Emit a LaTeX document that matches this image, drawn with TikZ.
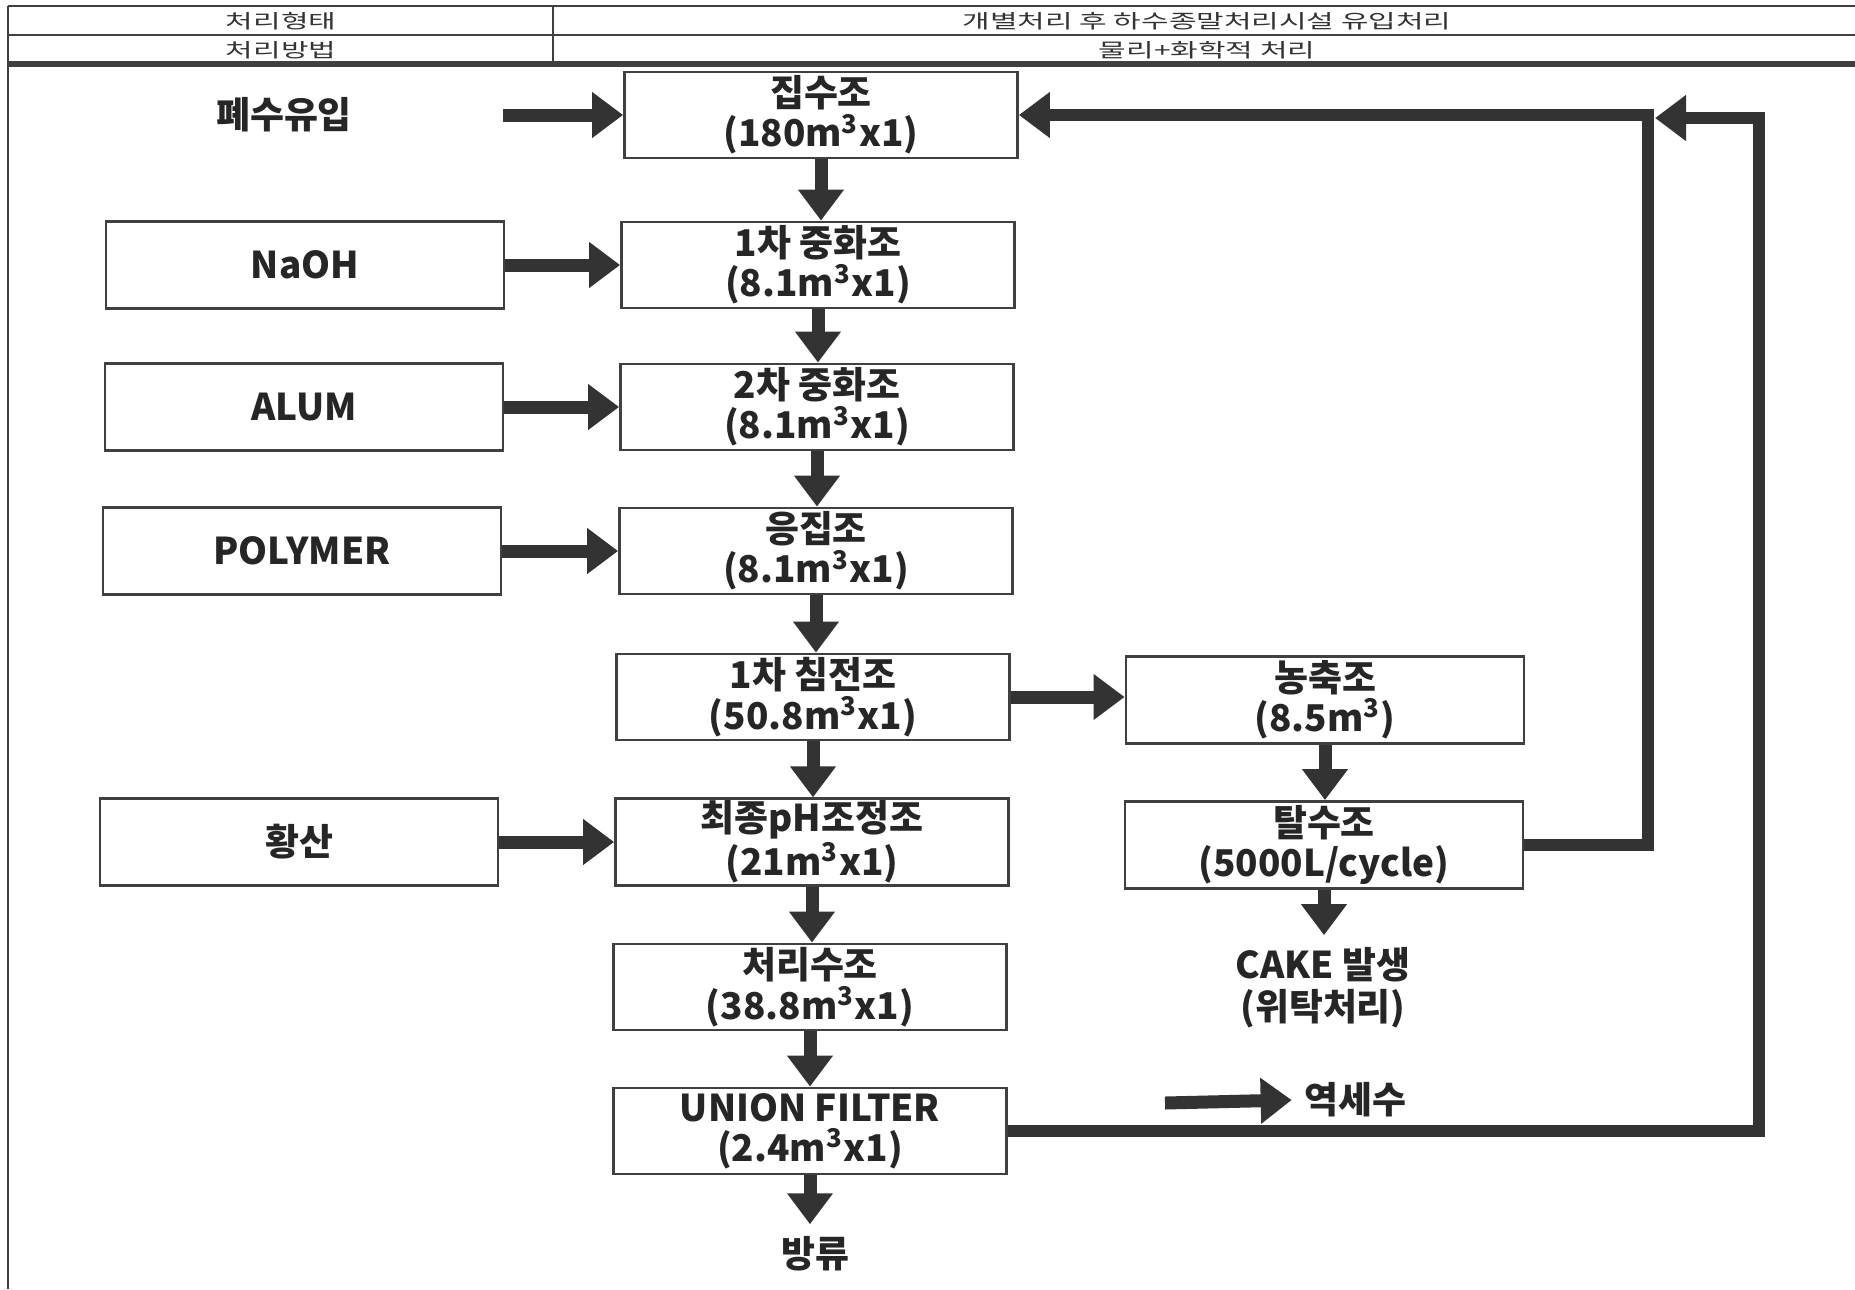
\documentclass[tikz,border=0pt]{standalone}
\usepackage{fontspec}
\setmainfont{Noto Sans CJK KR}
\newfontfamily\kopffont{Noto Sans CJK KR}[FakeStretch=1.55]
\usetikzlibrary{arrows.meta}

\tikzset{
	becken/.style={draw=black!75, line width=0.8pt, minimum width=39.3mm, minimum height=8.6mm,
		inner ysep=0.5pt, align=center, font=\bfseries\fontsize{10.5}{11.5}\selectfont, text=black!85},
	chemie/.style={becken, minimum width=39.8mm, minimum height=8.7mm},
	marke/.style={align=center, font=\bfseries\fontsize{10.5}{12}\selectfont, text=black!85},
	kopf/.style={font=\kopffont\fontsize{5.5}{6}\selectfont, text=black!80},
	pfeil/.style={line width=1.3mm, draw=black!80, -{Triangle[length=3.1mm,width=4.4mm]}},
	rueck/.style={pfeil, line width=1.2mm, line join=miter}
}

\begin{document}
\begin{tikzpicture}[x=0.1mm,y=-0.1mm]
	\useasboundingbox (0,0) rectangle (1855,1289);
	
	%Kopf
	\draw[black!75, line width=0.6pt] (8,6) -- (1855,6);
	\draw[black!75, line width=0.6pt] (8,35) -- (1855,35);
	\draw[black!75, line width=1.6pt] (8,64) -- (1855,64);
	\draw[black!75, line width=0.6pt] (553,6) -- (553,64);
	\draw[black!75, line width=0.8pt] (8,6) -- (8,1289);
	\node[kopf] (form) at (281,21) {처리형태};
	\node[kopf] (formtext) at (1207,21) {개별처리 후 하수종말처리시설 유입처리};
	\node[kopf] (method) at (281,50) {처리방법};
	\node[kopf] (methodtext) at (1207,50) {물리+화학적 처리};
	
	%Hauptlinie
	\node[becken] (jip) at (821,115) {집수조\\(180m\textsuperscript{3}x1)};
	\node[becken] (neut1) at (818,265) {1차 중화조\\(8.1m\textsuperscript{3}x1)};
	\node[becken] (neut2) at (817,407) {2차 중화조\\(8.1m\textsuperscript{3}x1)};
	\node[becken] (coag) at (816,551) {응집조\\(8.1m\textsuperscript{3}x1)};
	\node[becken] (sed) at (813,697) {1차 침전조\\(50.8m\textsuperscript{3}x1)};
	\node[becken] (ph) at (812,842) {최종pH조정조\\(21m\textsuperscript{3}x1)};
	\node[becken] (treat) at (810,987) {처리수조\\(38.8m\textsuperscript{3}x1)};
	\node[becken] (filt) at (810,1131) {UNION FILTER\\(2.4m\textsuperscript{3}x1)};
	\node[marke] (out) at (815,1254) {방류};
	
	%Chemikalien
	\node[marke] (inflow) at (284,115) {폐수유입};
	\coordinate (inflowend) at (503,115);
	\node[chemie] (naoh) at (305,265) {NaOH};
	\node[chemie] (alum) at (304,407) {ALUM};
	\node[chemie] (poly) at (302,551) {POLYMER};
	\node[chemie] (acid) at (299,842) {황산};
	
	%Schlamm
	\node[chemie] (thick) at (1325,700) {농축조\\(8.5m\textsuperscript{3})};
	\node[chemie] (dew) at (1324,845) {탈수조\\(5000L/cycle)};
	\node[marke] (cake) at (1323,988) {CAKE 발생\\(위탁처리)};
	\node[marke] (back) at (1355,1100) {역세수};
	\coordinate (backend) at (1165,1103);
	
	\draw[pfeil] (inflowend) -- (jip.west);
	\draw[pfeil] (naoh.east) -- (neut1.west);
	\draw[pfeil] (alum.east) -- (neut2.west);
	\draw[pfeil] (poly.east) -- (coag.west);
	\draw[pfeil] (acid.east) -- (ph.west);
	
	\draw[pfeil] (jip.south) -- (jip.south |- neut1.north);
	\draw[pfeil] (neut1.south) -- (neut1.south |- neut2.north);
	\draw[pfeil] (neut2.south) -- (neut2.south |- coag.north);
	\draw[pfeil] (coag.south) -- (coag.south |- sed.north);
	\draw[pfeil] (sed.south) -- (sed.south |- ph.north);
	\draw[pfeil] (ph.south) -- (ph.south |- treat.north);
	\draw[pfeil] (treat.south) -- (treat.south |- filt.north);
	\draw[pfeil] (filt.south) -- (filt.south |- out.north);
	
	\draw[pfeil] (sed.east) -- (sed.east -| thick.west);
	\draw[pfeil] (thick.south) -- (thick.south |- dew.north);
	\draw[pfeil] (dew.south) -- (dew.south |- cake.north);
	\draw[pfeil] (backend) -- (back.west);
	
	%Rueckfuehrung
	\coordinate (ret1) at (1648,115);
	\coordinate (ret2) at (1759,118);
	\coordinate (ret2end) at (1655,118);
	\draw[rueck] (dew.east) -| (ret1) -- (jip.east);
	\draw[rueck] (filt.east) -| (ret2) -- (ret2end);
	
\end{tikzpicture}
\end{document}
